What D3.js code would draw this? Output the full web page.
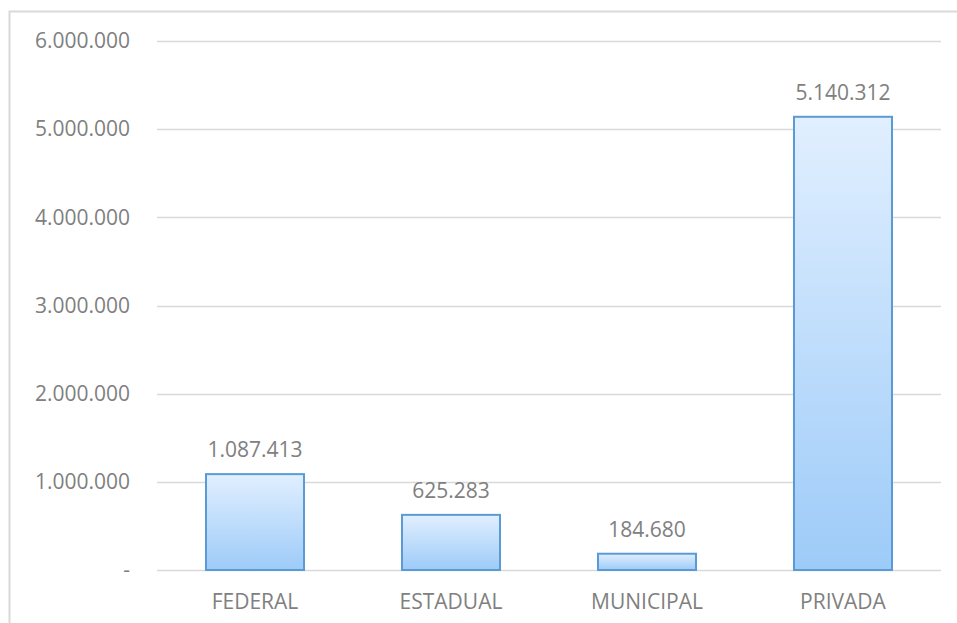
<!DOCTYPE html>
<html>
<head>
<meta charset="utf-8">
<script src="https://cdn.jsdelivr.net/npm/d3@7"></script>
<style>
  body { margin: 0; background: #fff; }
  text { font-family: "Open Sans", "Liberation Sans", sans-serif; fill: #808080; }
</style>
</head>
<body>
<div id="chart"></div>
<script>
// Chart data
const categories = ["FEDERAL", "ESTADUAL", "MUNICIPAL", "PRIVADA"];
const values = [1087413, 625283, 184680, 5140312];
const yTicks = [0, 1000000, 2000000, 3000000, 4000000, 5000000, 6000000];

const W = 957, H = 623;
const margin = {top: 41, right: 16, bottom: 53, left: 157};
const width = W - margin.left - margin.right;
const height = H - margin.top - margin.bottom;

// pt-BR style number: dots as thousands separator
const fmt = v => v === 0 ? "-" : d3.format(",")(v).replace(/,/g, ".");

const svg = d3.select("#chart").append("svg")
    .attr("width", W)
    .attr("height", H);

// gradient fill for bars
const grad = svg.append("defs").append("linearGradient")
    .attr("id", "barGrad")
    .attr("x1", 0).attr("y1", 0).attr("x2", 0).attr("y2", 1);
grad.append("stop").attr("offset", "0%").attr("stop-color", "#e1efff");
grad.append("stop").attr("offset", "100%").attr("stop-color", "#9dcbf8");

// outer frame
svg.append("path")
    .attr("d", `M9.5,${H} V11.5 H${W}`)
    .attr("fill", "none")
    .attr("stroke", "#d9d9d9")
    .attr("stroke-width", 2);

const g = svg.append("g")
    .attr("transform", `translate(${margin.left},${margin.top})`);

const x = d3.scaleBand()
    .domain(categories)
    .range([0, width])
    .paddingInner(0.5)
    .paddingOuter(0.25);

const y = d3.scaleLinear()
    .domain([0, 6000000])
    .range([height, 0]);

// gridlines
g.selectAll(".grid")
    .data(yTicks)
    .enter().append("line")
    .attr("x1", 0).attr("x2", width)
    .attr("y1", d => Math.round(y(d)) + 0.5)
    .attr("y2", d => Math.round(y(d)) + 0.5)
    .attr("stroke", "#d9d9d9")
    .attr("stroke-width", 1.5);

// y axis labels
const yAxis = g.append("g")
    .call(d3.axisLeft(y).tickValues(yTicks).tickFormat(fmt).tickSize(0).tickPadding(27));
yAxis.select(".domain").remove();
yAxis.selectAll("text")
    .style("font-size", "21px")
    .attr("fill", "#808080");

// x axis labels
const xAxis = g.append("g")
    .attr("transform", `translate(0,${height})`)
    .call(d3.axisBottom(x).tickSize(0).tickPadding(24));
xAxis.select(".domain").remove();
xAxis.selectAll("text")
    .style("font-size", "21px")
    .attr("fill", "#808080");

// bars
g.selectAll(".bar")
    .data(values)
    .enter().append("rect")
    .attr("class", "bar")
    .attr("x", (d, i) => x(categories[i]))
    .attr("y", d => y(d))
    .attr("width", x.bandwidth())
    .attr("height", d => height - y(d))
    .attr("fill", "url(#barGrad)")
    .attr("stroke", "#5b9bd5")
    .attr("stroke-width", 2);

// value labels
g.selectAll(".val")
    .data(values)
    .enter().append("text")
    .attr("class", "val")
    .attr("x", (d, i) => x(categories[i]) + x.bandwidth() / 2)
    .attr("y", d => y(d) - 17)
    .attr("text-anchor", "middle")
    .style("font-size", "21px")
    .text(fmt);
</script>
</body>
</html>
